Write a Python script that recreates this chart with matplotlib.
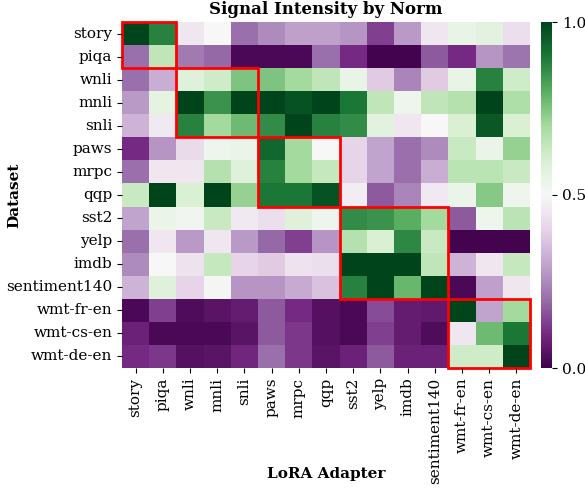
import matplotlib
matplotlib.use("Agg")
import matplotlib.pyplot as plt
import numpy as np
import seaborn as sns
from matplotlib.patches import Rectangle

names = ["story", "piqa", "wnli", "mnli", "snli", "paws", "mrpc", "qqp",
         "sst2", "yelp", "imdb", "sentiment140", "wmt-fr-en", "wmt-cs-en", "wmt-de-en"]

# rows = dataset, columns = LoRA adapter
story = [1.0, 0.88, 0.45, 0.5, 0.2, 0.25, 0.29, 0.29, 0.27, 0.13, 0.28, 0.45, 0.55, 0.57, 0.43]
piqa = [0.2, 0.65, 0.22, 0.19, 0.02, 0.02, 0.02, 0.2, 0.1, 0.01, 0.01, 0.17, 0.1, 0.27, 0.21]
wnli = [0.2, 0.32, 0.58, 0.62, 0.75, 0.75, 0.7, 0.65, 0.55, 0.38, 0.24, 0.38, 0.55, 0.88, 0.62]
mnli = [0.28, 0.56, 1.0, 0.85, 1.0, 1.0, 0.97, 1.0, 0.9, 0.65, 0.53, 0.65, 0.67, 1.0, 0.68]
snli = [0.33, 0.46, 0.88, 0.7, 0.77, 0.86, 1.0, 0.88, 0.86, 0.57, 0.45, 0.5, 0.6, 0.96, 0.6]
paws = [0.1, 0.27, 0.42, 0.53, 0.54, 0.93, 0.7, 0.5, 0.4, 0.3, 0.2, 0.25, 0.63, 0.54, 0.72]
mrpc = [0.2, 0.45, 0.45, 0.67, 0.58, 0.88, 0.7, 0.64, 0.4, 0.3, 0.2, 0.32, 0.66, 0.66, 0.63]
qqp = [0.63, 1.0, 0.6, 1.0, 0.72, 0.9, 0.9, 0.97, 0.47, 0.17, 0.24, 0.46, 0.54, 0.74, 0.53]
sst2 = [0.3, 0.54, 0.52, 0.63, 0.46, 0.43, 0.58, 0.53, 0.86, 0.85, 0.8, 0.7, 0.17, 0.53, 0.66]
yelp = [0.2, 0.45, 0.28, 0.45, 0.28, 0.19, 0.13, 0.27, 0.67, 0.6, 0.87, 0.63, 0.01, 0.01, 0.01]
imdb = [0.25, 0.5, 0.44, 0.64, 0.4, 0.38, 0.44, 0.43, 1.0, 1.0, 1.0, 0.65, 0.33, 0.45, 0.64]
sentiment140 = [0.33, 0.58, 0.4, 0.51, 0.27, 0.27, 0.31, 0.36, 0.88, 1.0, 0.78, 1.0, 0.02, 0.29, 0.45]
wmt_fr_en = [0.02, 0.13, 0.03, 0.05, 0.07, 0.17, 0.1, 0.04, 0.02, 0.15, 0.07, 0.06, 1.0, 0.3, 0.7]
wmt_cs_en = [0.08, 0.02, 0.02, 0.02, 0.05, 0.17, 0.12, 0.04, 0.02, 0.13, 0.07, 0.03, 0.45, 0.77, 0.9]
wmt_de_en = [0.1, 0.12, 0.04, 0.05, 0.09, 0.2, 0.12, 0.05, 0.08, 0.17, 0.08, 0.08, 0.62, 0.62, 1.0]

# task groups outlined in red (start, size)
groups = [(0, 2), (2, 3), (5, 3), (8, 4), (12, 3)]

data = np.array([story, piqa, wnli, mnli, snli, paws, mrpc, qqp, sst2, yelp,
                 imdb, sentiment140, wmt_fr_en, wmt_cs_en, wmt_de_en])

plt.rcParams['font.family'] = 'DejaVu Serif'

fig = plt.figure(figsize=(5.85, 4.88), dpi=100)
ax = fig.add_axes([122 / 585, 1 - 368 / 488, 408 / 585, 346 / 488])
cax = fig.add_axes([541 / 585, 1 - 368 / 488, 11 / 585, 346 / 488])

sns.heatmap(data, ax=ax, cbar_ax=cax, cmap="PRGn", vmin=0, vmax=1,
            xticklabels=names, yticklabels=names)
cax.set_yticks([0.0, 0.5, 1.0])
cax.tick_params(labelsize=11)

for start, size in groups:
    ax.add_patch(Rectangle((start, start), size, size, fill=False,
                           edgecolor="red", linewidth=2, clip_on=False))

ax.set_title("Signal Intensity by Norm", fontsize=12, fontweight="bold")
ax.set_xlabel("LoRA Adapter", fontsize=11, fontweight="bold")
ax.set_ylabel("Dataset", fontsize=11, fontweight="bold")
ax.xaxis.set_label_coords(0.5, -0.286)
ax.yaxis.set_label_coords(-0.248, 0.5)
ax.tick_params(axis='both', labelsize=11)
plt.setp(ax.get_xticklabels(), rotation=90)
plt.setp(ax.get_yticklabels(), rotation=0)

plt.savefig("out.png", dpi=100)
